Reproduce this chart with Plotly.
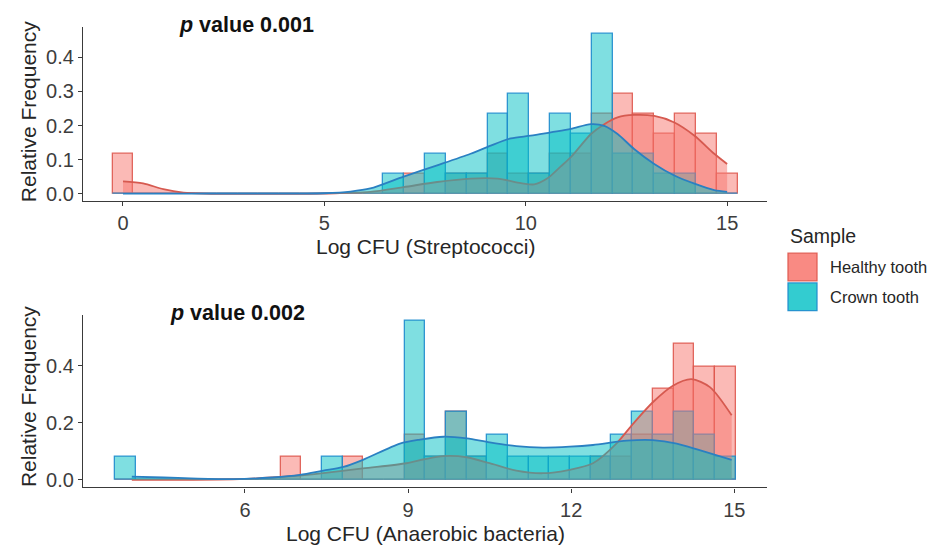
import plotly.graph_objects as go

# ---------------- data ----------------
# Top panel: Log CFU (Streptococci); 30 bins, bin k centred at k * top_bw (k = 0..29)
top_bw = 15 / 29
top_bin_index = list(range(0, 30))
top_healthy = [0.117, 0, 0, 0, 0, 0, 0, 0, 0, 0,
               0, 0, 0, 0, 0.059, 0, 0.059, 0.059, 0.117, 0.059,
               0.059, 0.117, 0.117, 0.234, 0.293, 0.234, 0.176, 0.234, 0.176, 0.059]
top_crown = [0, 0, 0, 0, 0, 0, 0, 0, 0, 0,
             0, 0, 0, 0.059, 0, 0.117, 0.059, 0.059, 0.234, 0.293,
             0.059, 0.234, 0.176, 0.469, 0.117, 0.117, 0.059, 0.059, 0, 0]

top_dens_healthy_x = [0, 0.5, 1.0, 1.5, 2.0, 5.0, 5.5, 6.14, 6.97, 7.80, 8.63, 9.30, 9.88, 10.21,
                      10.54, 10.87, 11.12, 11.62, 11.95, 12.28, 12.69, 13.19, 13.69, 14.19, 14.68, 15.0]
top_dens_healthy_y = [0.036, 0.030, 0.013, 0.003, 0.0, 0.0, 0.002, 0.005, 0.019, 0.034, 0.044, 0.044,
                      0.031, 0.027, 0.045, 0.080, 0.107, 0.175, 0.204, 0.224, 0.231, 0.228, 0.209,
                      0.170, 0.117, 0.087]
top_dens_crown_x = [0, 4.5, 5.0, 5.65, 6.14, 6.97, 7.80, 8.63, 9.13, 9.63, 10.12, 10.62, 11.12,
                    11.62, 11.95, 12.28, 12.69, 13.19, 13.69, 14.19, 14.68, 15.0]
top_dens_crown_y = [0, 0, 0.001, 0.006, 0.015, 0.050, 0.083, 0.117, 0.141, 0.162, 0.170, 0.180,
                    0.190, 0.204, 0.199, 0.175, 0.131, 0.087, 0.053, 0.029, 0.010, 0.005]

# Bottom panel: Log CFU (Anaerobic bacteria); 30 bins, bin k centred at k * bot_bw (k = 10..39)
bot_bw = 0.3803
bot_bin_index = list(range(10, 40))
bot_healthy = [0, 0, 0, 0, 0, 0, 0, 0, 0.080, 0,
               0, 0.080, 0, 0, 0.159, 0.080, 0.239, 0.080, 0, 0,
               0, 0, 0, 0.080, 0.080, 0.159, 0.319, 0.478, 0.398, 0.398]
bot_crown = [0.080, 0, 0, 0, 0, 0, 0, 0, 0, 0,
             0.080, 0, 0, 0, 0.558, 0.080, 0.239, 0.080, 0.159, 0.080,
             0.080, 0.080, 0.080, 0.080, 0.159, 0.239, 0.159, 0.239, 0.159, 0.080]

bot_dens_healthy_x = [3.92, 5.0, 5.9, 6.5, 7.0, 7.44, 8.17, 8.97, 9.3, 9.65, 10.08, 10.5, 10.99,
                      11.48, 11.97, 12.4, 12.83, 13.14, 13.5, 13.87, 14.21, 14.55, 14.95]
bot_dens_healthy_y = [0.0, 0.0, 0.002, 0.008, 0.015, 0.023, 0.040, 0.058, 0.072, 0.083, 0.079,
                      0.058, 0.032, 0.023, 0.035, 0.058, 0.127, 0.197, 0.272, 0.330, 0.353, 0.325, 0.226]
bot_dens_crown_x = [3.92, 4.5, 5.0, 5.79, 6.5, 7.01, 7.44, 7.81, 8.17, 8.85, 9.22, 9.65, 10.08,
                    10.5, 10.99, 11.48, 11.97, 12.4, 13.02, 13.5, 13.94, 14.36, 14.95]
bot_dens_crown_y = [0.011, 0.008, 0.005, 0.002, 0.008, 0.017, 0.032, 0.045, 0.070, 0.127, 0.141,
                    0.151, 0.145, 0.131, 0.118, 0.113, 0.116, 0.122, 0.137, 0.139, 0.127, 0.104, 0.070]

groups = ["Healthy tooth", "Crown tooth"]
top_ticks = [0, 5, 10, 15]
bot_ticks = [6, 9, 12, 15]
top_yticks = [0.0, 0.1, 0.2, 0.3, 0.4]
bot_yticks = [0.0, 0.2, 0.4]

# ---------------- styles ----------------
RED_FILL = "rgba(248,118,109,0.5)"
RED_EDGE = "rgba(222,88,78,0.9)"
RED_LINE = "#D65A50"
CY_FILL = "rgba(0,191,196,0.5)"
CY_EDGE = "rgba(30,140,205,0.9)"
CY_LINE = "#2A80C2"
FONT = "Liberation Sans, Arial, sans-serif"
TICK_COL = "#3d3d3d"
TITLE_COL = "#262626"

fig = go.Figure()


def add_panel(xa, ya, bw, idx, h_red, h_cy, dxr, dyr, dxc, dyc):
    centers = [k * bw for k in idx]
    fig.add_trace(go.Bar(x=centers, y=h_red, width=bw, name=groups[0], showlegend=False,
                         marker=dict(color=RED_FILL, line=dict(color=RED_EDGE, width=1.3)),
                         xaxis=xa, yaxis=ya, hoverinfo="skip"))
    fig.add_trace(go.Bar(x=centers, y=h_cy, width=bw, name=groups[1], showlegend=False,
                         marker=dict(color=CY_FILL, line=dict(color=CY_EDGE, width=1.3)),
                         xaxis=xa, yaxis=ya, hoverinfo="skip"))
    fig.add_trace(go.Scatter(x=dxr, y=dyr, mode="lines", showlegend=False, fill="tozeroy",
                             fillcolor=RED_FILL,
                             line=dict(color=RED_LINE, width=1.8, shape="spline", smoothing=0.8),
                             xaxis=xa, yaxis=ya, hoverinfo="skip"))
    fig.add_trace(go.Scatter(x=dxc, y=dyc, mode="lines", showlegend=False, fill="tozeroy",
                             fillcolor=CY_FILL,
                             line=dict(color=CY_LINE, width=1.8, shape="spline", smoothing=0.8),
                             xaxis=xa, yaxis=ya, hoverinfo="skip"))


add_panel("x", "y", top_bw, top_bin_index, top_healthy, top_crown,
          top_dens_healthy_x, top_dens_healthy_y, top_dens_crown_x, top_dens_crown_y)
add_panel("x2", "y2", bot_bw, bot_bin_index, bot_healthy, bot_crown,
          bot_dens_healthy_x, bot_dens_healthy_y, bot_dens_crown_x, bot_dens_crown_y)

W, H = 933, 549
xdom = [83 / W, 767 / W]
axis_common = dict(showline=True, linecolor="#3a3a3a", linewidth=1.3, ticks="outside",
                   ticklen=4, tickwidth=1.2, tickcolor="#3a3a3a", showgrid=False,
                   zeroline=False, tickfont=dict(family=FONT, size=20, color=TICK_COL),
                   fixedrange=True)

fig.update_layout(
    width=W, height=H, margin=dict(l=0, r=0, t=0, b=0),
    paper_bgcolor="white", plot_bgcolor="white", barmode="overlay", bargap=0,
    xaxis=dict(domain=xdom, range=[-0.993, 15.99], tickvals=top_ticks, anchor="y", **axis_common),
    yaxis=dict(domain=[1 - 202 / H, 1 - 27 / H], range=[-0.0204, 0.49], tickvals=top_yticks,
               tickformat=".1f", anchor="x", **axis_common),
    xaxis2=dict(domain=xdom, range=[3.022, 15.6], tickvals=bot_ticks, anchor="y2", **axis_common),
    yaxis2=dict(domain=[1 - 491 / H, 1 - 317 / H], range=[-0.0268, 0.579], tickvals=bot_yticks,
                tickformat=".1f", anchor="x2", **axis_common),
)

ann = []
# axis titles
title_font = dict(family=FONT, size=21, color=TITLE_COL)
ann.append(dict(text="Log CFU (Streptococci)", x=425 / W, y=1 - 248 / H, xref="paper", yref="paper",
                showarrow=False, xanchor="center", yanchor="middle", font=title_font))
ann.append(dict(text="Log CFU (Anaerobic bacteria)", x=425 / W, y=1 - 537 / H, xref="paper",
                yref="paper", showarrow=False, xanchor="center", yanchor="middle", font=title_font))
ann.append(dict(text="Relative Frequency", x=28 / W, y=1 - 113 / H, xref="paper", yref="paper",
                showarrow=False, xanchor="center", yanchor="middle", textangle=-90, font=title_font))
ann.append(dict(text="Relative Frequency", x=28 / W, y=1 - 400 / H, xref="paper", yref="paper",
                showarrow=False, xanchor="center", yanchor="middle", textangle=-90, font=title_font))
# p value labels
pfont = dict(family=FONT, size=21.5, color="#111111")
ann.append(dict(text="<b><i>p</i> value 0.001</b>", x=177 / W, y=1 - 25 / H, xref="paper",
                yref="paper", showarrow=False, xanchor="left", yanchor="middle", font=pfont))
ann.append(dict(text="<b><i>p</i> value 0.002</b>", x=168 / W, y=1 - 315 / H, xref="paper",
                yref="paper", showarrow=False, xanchor="left", yanchor="middle", font=pfont))
# legend
ann.append(dict(text="Sample", x=788 / W, y=1 - 238 / H, xref="paper", yref="paper",
                showarrow=False, xanchor="left", yanchor="middle",
                font=dict(family=FONT, size=19.5, color=TITLE_COL)))
leg_font = dict(family=FONT, size=16.5, color=TITLE_COL)
ann.append(dict(text=groups[0], x=828 / W, y=1 - 269 / H, xref="paper", yref="paper",
                showarrow=False, xanchor="left", yanchor="middle", font=leg_font))
ann.append(dict(text=groups[1], x=828 / W, y=1 - 299 / H, xref="paper", yref="paper",
                showarrow=False, xanchor="left", yanchor="middle", font=leg_font))
fig.update_layout(annotations=ann)

shapes = [
    dict(type="rect", xref="paper", yref="paper", x0=788 / W, x1=817 / W,
         y0=1 - 283 / H, y1=1 - 255 / H, fillcolor="rgba(248,118,109,0.85)",
         line=dict(color=RED_EDGE, width=1.3)),
    dict(type="rect", xref="paper", yref="paper", x0=788 / W, x1=817 / W,
         y0=1 - 313 / H, y1=1 - 285 / H, fillcolor="rgba(0,191,196,0.8)",
         line=dict(color=CY_EDGE, width=1.3)),
]
fig.update_layout(shapes=shapes)

fig.write_html("out.html")
